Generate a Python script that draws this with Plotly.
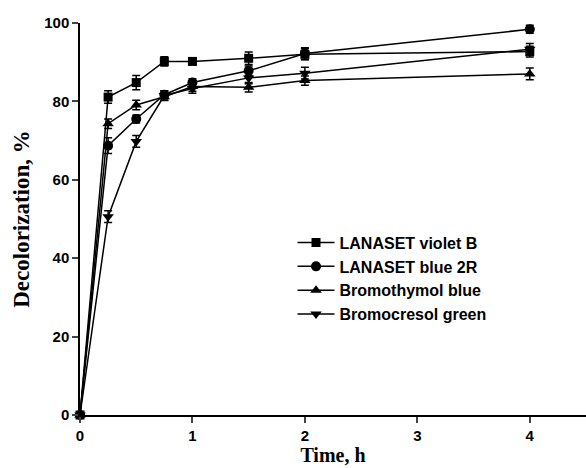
import plotly.graph_objects as go

time_h = [0, 0.25, 0.5, 0.75, 1, 1.5, 2, 4]

series_names = ["LANASET violet B", "LANASET blue 2R", "Bromothymol blue", "Bromocresol green"]
violet_b = [0, 81.1, 84.8, 90.2, 90.2, 91.0, 92.0, 92.7]
violet_b_err = [0, 1.6, 1.8, 1.2, 0.8, 1.6, 1.4, 1.4]
blue_2r = [0, 68.7, 75.5, 81.7, 84.8, 87.8, 92.2, 98.4]
blue_2r_err = [0, 2.0, 1.0, 1.0, 1.0, 1.2, 1.5, 1.0]
bromothymol = [0, 74.3, 79.1, 81.2, 83.8, 83.6, 85.3, 87.0]
bromothymol_err = [0, 1.2, 1.2, 1.0, 1.2, 1.2, 1.2, 1.5]
bromocresol = [0, 50.6, 69.8, 81.5, 83.3, 86.0, 87.2, 93.3]
bromocresol_err = [0, 1.5, 1.5, 1.2, 1.2, 1.5, 1.5, 1.5]

ys = [violet_b, blue_2r, bromothymol, bromocresol]
errs = [violet_b_err, blue_2r_err, bromothymol_err, bromocresol_err]
symbols = ["square", "circle", "triangle-up", "triangle-down"]
sizes = [9, 10, 10, 10]

fig = go.Figure()
for name, y, e, sym, sz in zip(series_names, ys, errs, symbols, sizes):
    fig.add_trace(go.Scatter(
        x=time_h, y=y, name=name, mode="lines+markers",
        line=dict(color="black", width=1.5),
        marker=dict(symbol=sym, size=sz, color="black"),
        error_y=dict(type="data", array=e, visible=True, color="black", thickness=1.5, width=4),
        cliponaxis=False,
    ))

fig.update_layout(
    width=586, height=468,
    margin=dict(l=80, r=0, t=23, b=53),
    plot_bgcolor="white", paper_bgcolor="white",
    showlegend=True,
    legend=dict(
        x=0.42, y=0.483, xanchor="left", yanchor="top",
        bgcolor="rgba(0,0,0,0)",
        font=dict(family="Liberation Sans, Arial", size=16, color="black", weight="bold"),
        tracegroupgap=0, itemwidth=37,
    ),
    xaxis=dict(
        range=[0, 4.5], tickvals=[0, 1, 2, 3, 4], ticks="outside", ticklen=6, tickwidth=1.5,
        showline=True, linecolor="black", linewidth=1.5, showgrid=False, zeroline=False,
        tickfont=dict(family="Liberation Sans, Arial", size=15, color="black", weight="bold"),
        title=dict(text="Time, h", standoff=4,
                   font=dict(family="Liberation Serif, Times New Roman", size=20, color="black", weight="bold")),
    ),
    yaxis=dict(
        range=[0, 100], tickvals=[0, 20, 40, 60, 80, 100], ticks="outside", ticklen=6, tickwidth=1.5,
        showline=True, linecolor="black", linewidth=1.5, showgrid=False, zeroline=False,
        tickfont=dict(family="Liberation Sans, Arial", size=15, color="black", weight="bold"),
        title=dict(text="Decolorization, %", standoff=8,
                   font=dict(family="Liberation Serif, Times New Roman", size=23, color="black", weight="bold")),
    ),
)

fig.write_html("out.html")
